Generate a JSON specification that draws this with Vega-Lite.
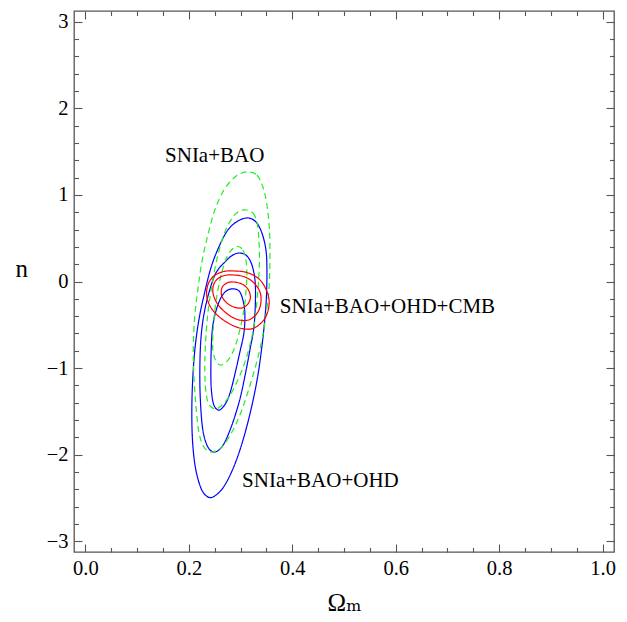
{
  "$schema": "https://vega.github.io/schema/vega-lite/v6.json",
  "width": 540,
  "height": 541,
  "autosize": "none",
  "padding": {"left": 74, "top": 11, "right": 13, "bottom": 70},
  "background": "white",
  "config": {
    "view": {"stroke": "#555555", "strokeWidth": 1.3},
    "axis": {
      "domain": false, "grid": false,
      "labelFont": "Liberation Serif, DejaVu Serif, serif", "labelFontSize": 20.5, "labelColor": "black",
      "tickColor": "#555555", "tickWidth": 1.1,
      "titleFont": "Liberation Serif, DejaVu Serif, serif", "titleFontWeight": "normal", "titleColor": "black", "titleFontSize": 25
    }
  },
  "datasets": {
    "contours": [
      {"c":"B3","s":"blue","i":0,"x":0.3142,"y":0.734},
      {"c":"B3","s":"blue","i":1,"x":0.3297,"y":0.688},
      {"c":"B3","s":"blue","i":2,"x":0.3413,"y":0.560},
      {"c":"B3","s":"blue","i":3,"x":0.3491,"y":0.364},
      {"c":"B3","s":"blue","i":4,"x":0.3510,"y":0.133},
      {"c":"B3","s":"blue","i":5,"x":0.3500,"y":-0.179},
      {"c":"B3","s":"blue","i":6,"x":0.3468,"y":-0.445},
      {"c":"B3","s":"blue","i":7,"x":0.3413,"y":-0.750},
      {"c":"B3","s":"blue","i":8,"x":0.3336,"y":-1.081},
      {"c":"B3","s":"blue","i":9,"x":0.3239,"y":-1.380},
      {"c":"B3","s":"blue","i":10,"x":0.3123,"y":-1.670},
      {"c":"B3","s":"blue","i":11,"x":0.2988,"y":-1.947},
      {"c":"B3","s":"blue","i":12,"x":0.2852,"y":-2.165},
      {"c":"B3","s":"blue","i":13,"x":0.2717,"y":-2.330},
      {"c":"B3","s":"blue","i":14,"x":0.2580,"y":-2.440},
      {"c":"B3","s":"blue","i":15,"x":0.2406,"y":-2.496},
      {"c":"B3","s":"blue","i":16,"x":0.2252,"y":-2.410},
      {"c":"B3","s":"blue","i":17,"x":0.2136,"y":-2.178},
      {"c":"B3","s":"blue","i":18,"x":0.2077,"y":-1.889},
      {"c":"B3","s":"blue","i":19,"x":0.2058,"y":-1.565},
      {"c":"B3","s":"blue","i":20,"x":0.2070,"y":-1.196},
      {"c":"B3","s":"blue","i":21,"x":0.2116,"y":-0.791},
      {"c":"B3","s":"blue","i":22,"x":0.2194,"y":-0.445},
      {"c":"B3","s":"blue","i":23,"x":0.2295,"y":-0.156},
      {"c":"B3","s":"blue","i":24,"x":0.2426,"y":0.156},
      {"c":"B3","s":"blue","i":25,"x":0.2581,"y":0.399},
      {"c":"B3","s":"blue","i":26,"x":0.2755,"y":0.595},
      {"c":"B3","s":"blue","i":27,"x":0.2949,"y":0.699},

      {"c":"B2","s":"blue","i":0,"x":0.2987,"y":0.329},
      {"c":"B2","s":"blue","i":1,"x":0.3123,"y":0.295},
      {"c":"B2","s":"blue","i":2,"x":0.3220,"y":0.191},
      {"c":"B2","s":"blue","i":3,"x":0.3279,"y":0.017},
      {"c":"B2","s":"blue","i":4,"x":0.3288,"y":-0.214},
      {"c":"B2","s":"blue","i":5,"x":0.3259,"y":-0.526},
      {"c":"B2","s":"blue","i":6,"x":0.3181,"y":-0.791},
      {"c":"B2","s":"blue","i":7,"x":0.3104,"y":-1.035},
      {"c":"B2","s":"blue","i":8,"x":0.3007,"y":-1.311},
      {"c":"B2","s":"blue","i":9,"x":0.2910,"y":-1.520},
      {"c":"B2","s":"blue","i":10,"x":0.2794,"y":-1.720},
      {"c":"B2","s":"blue","i":11,"x":0.2658,"y":-1.895},
      {"c":"B2","s":"blue","i":12,"x":0.2503,"y":-1.970},
      {"c":"B2","s":"blue","i":13,"x":0.2368,"y":-1.912},
      {"c":"B2","s":"blue","i":14,"x":0.2271,"y":-1.716},
      {"c":"B2","s":"blue","i":15,"x":0.2223,"y":-1.369},
      {"c":"B2","s":"blue","i":16,"x":0.2213,"y":-1.023},
      {"c":"B2","s":"blue","i":17,"x":0.2232,"y":-0.676},
      {"c":"B2","s":"blue","i":18,"x":0.2290,"y":-0.387},
      {"c":"B2","s":"blue","i":19,"x":0.2387,"y":-0.133},
      {"c":"B2","s":"blue","i":20,"x":0.2523,"y":0.098},
      {"c":"B2","s":"blue","i":21,"x":0.2717,"y":0.237},
      {"c":"B2","s":"blue","i":22,"x":0.2852,"y":0.306},

      {"c":"B1","s":"blue","i":0,"x":0.2890,"y":-0.087},
      {"c":"B1","s":"blue","i":1,"x":0.2987,"y":-0.121},
      {"c":"B1","s":"blue","i":2,"x":0.3055,"y":-0.237},
      {"c":"B1","s":"blue","i":3,"x":0.3084,"y":-0.387},
      {"c":"B1","s":"blue","i":4,"x":0.3065,"y":-0.595},
      {"c":"B1","s":"blue","i":5,"x":0.2987,"y":-0.815},
      {"c":"B1","s":"blue","i":6,"x":0.2910,"y":-1.020},
      {"c":"B1","s":"blue","i":7,"x":0.2813,"y":-1.255},
      {"c":"B1","s":"blue","i":8,"x":0.2720,"y":-1.400},
      {"c":"B1","s":"blue","i":9,"x":0.2590,"y":-1.485},
      {"c":"B1","s":"blue","i":10,"x":0.2484,"y":-1.427},
      {"c":"B1","s":"blue","i":11,"x":0.2436,"y":-1.254},
      {"c":"B1","s":"blue","i":12,"x":0.2426,"y":-1.023},
      {"c":"B1","s":"blue","i":13,"x":0.2436,"y":-0.734},
      {"c":"B1","s":"blue","i":14,"x":0.2465,"y":-0.503},
      {"c":"B1","s":"blue","i":15,"x":0.2542,"y":-0.306},
      {"c":"B1","s":"blue","i":16,"x":0.2639,"y":-0.168},
      {"c":"B1","s":"blue","i":17,"x":0.2755,"y":-0.098},

      {"c":"G3","s":"green","i":0,"x":0.3161,"y":1.265},
      {"c":"G3","s":"green","i":1,"x":0.3316,"y":1.230},
      {"c":"G3","s":"green","i":2,"x":0.3432,"y":1.092},
      {"c":"G3","s":"green","i":3,"x":0.3510,"y":0.884},
      {"c":"G3","s":"green","i":4,"x":0.3559,"y":0.595},
      {"c":"G3","s":"green","i":5,"x":0.3568,"y":0.248},
      {"c":"G3","s":"green","i":6,"x":0.3549,"y":-0.098},
      {"c":"G3","s":"green","i":7,"x":0.3491,"y":-0.387},
      {"c":"G3","s":"green","i":8,"x":0.3413,"y":-0.676},
      {"c":"G3","s":"green","i":9,"x":0.3297,"y":-0.965},
      {"c":"G3","s":"green","i":10,"x":0.3142,"y":-1.277},
      {"c":"G3","s":"green","i":11,"x":0.2988,"y":-1.543},
      {"c":"G3","s":"green","i":12,"x":0.2833,"y":-1.739},
      {"c":"G3","s":"green","i":13,"x":0.2639,"y":-1.912},
      {"c":"G3","s":"green","i":14,"x":0.2445,"y":-1.970},
      {"c":"G3","s":"green","i":15,"x":0.2290,"y":-1.912},
      {"c":"G3","s":"green","i":16,"x":0.2194,"y":-1.739},
      {"c":"G3","s":"green","i":17,"x":0.2136,"y":-1.427},
      {"c":"G3","s":"green","i":18,"x":0.2097,"y":-1.081},
      {"c":"G3","s":"green","i":19,"x":0.2087,"y":-0.734},
      {"c":"G3","s":"green","i":20,"x":0.2116,"y":-0.387},
      {"c":"G3","s":"green","i":21,"x":0.2174,"y":-0.098},
      {"c":"G3","s":"green","i":22,"x":0.2252,"y":0.225},
      {"c":"G3","s":"green","i":23,"x":0.2368,"y":0.537},
      {"c":"G3","s":"green","i":24,"x":0.2503,"y":0.826},
      {"c":"G3","s":"green","i":25,"x":0.2678,"y":1.057},
      {"c":"G3","s":"green","i":26,"x":0.2871,"y":1.196},
      {"c":"G3","s":"green","i":27,"x":0.3026,"y":1.254},

      {"c":"G2","s":"green","i":0,"x":0.3113,"y":0.826},
      {"c":"G2","s":"green","i":1,"x":0.3239,"y":0.792},
      {"c":"G2","s":"green","i":2,"x":0.3316,"y":0.688},
      {"c":"G2","s":"green","i":3,"x":0.3355,"y":0.480},
      {"c":"G2","s":"green","i":4,"x":0.3365,"y":0.225},
      {"c":"G2","s":"green","i":5,"x":0.3336,"y":-0.098},
      {"c":"G2","s":"green","i":6,"x":0.3278,"y":-0.445},
      {"c":"G2","s":"green","i":7,"x":0.3181,"y":-0.734},
      {"c":"G2","s":"green","i":8,"x":0.3065,"y":-0.965},
      {"c":"G2","s":"green","i":9,"x":0.2929,"y":-1.161},
      {"c":"G2","s":"green","i":10,"x":0.2775,"y":-1.334},
      {"c":"G2","s":"green","i":11,"x":0.2600,"y":-1.450},
      {"c":"G2","s":"green","i":12,"x":0.2474,"y":-1.467},
      {"c":"G2","s":"green","i":13,"x":0.2368,"y":-1.392},
      {"c":"G2","s":"green","i":14,"x":0.2319,"y":-1.196},
      {"c":"G2","s":"green","i":15,"x":0.2310,"y":-0.907},
      {"c":"G2","s":"green","i":16,"x":0.2339,"y":-0.560},
      {"c":"G2","s":"green","i":17,"x":0.2387,"y":-0.272},
      {"c":"G2","s":"green","i":18,"x":0.2465,"y":0.017},
      {"c":"G2","s":"green","i":19,"x":0.2562,"y":0.306},
      {"c":"G2","s":"green","i":20,"x":0.2697,"y":0.572},
      {"c":"G2","s":"green","i":21,"x":0.2852,"y":0.745},
      {"c":"G2","s":"green","i":22,"x":0.2987,"y":0.815},

      {"c":"G1","s":"green","i":0,"x":0.2949,"y":0.404},
      {"c":"G1","s":"green","i":1,"x":0.3046,"y":0.364},
      {"c":"G1","s":"green","i":2,"x":0.3104,"y":0.248},
      {"c":"G1","s":"green","i":3,"x":0.3123,"y":0.075},
      {"c":"G1","s":"green","i":4,"x":0.3104,"y":-0.121},
      {"c":"G1","s":"green","i":5,"x":0.3065,"y":-0.329},
      {"c":"G1","s":"green","i":6,"x":0.2987,"y":-0.560},
      {"c":"G1","s":"green","i":7,"x":0.2890,"y":-0.757},
      {"c":"G1","s":"green","i":8,"x":0.2774,"y":-0.896},
      {"c":"G1","s":"green","i":9,"x":0.2629,"y":-0.965},
      {"c":"G1","s":"green","i":10,"x":0.2523,"y":-0.919},
      {"c":"G1","s":"green","i":11,"x":0.2465,"y":-0.791},
      {"c":"G1","s":"green","i":12,"x":0.2465,"y":-0.618},
      {"c":"G1","s":"green","i":13,"x":0.2503,"y":-0.329},
      {"c":"G1","s":"green","i":14,"x":0.2562,"y":-0.098},
      {"c":"G1","s":"green","i":15,"x":0.2639,"y":0.110},
      {"c":"G1","s":"green","i":16,"x":0.2736,"y":0.283},
      {"c":"G1","s":"green","i":17,"x":0.2852,"y":0.381},

      {"c":"R3","s":"red","i":0,"x":0.2891,"y":0.121},
      {"c":"R3","s":"red","i":1,"x":0.3123,"y":0.104},
      {"c":"R3","s":"red","i":2,"x":0.3336,"y":0.040},
      {"c":"R3","s":"red","i":3,"x":0.3471,"y":-0.064},
      {"c":"R3","s":"red","i":4,"x":0.3549,"y":-0.202},
      {"c":"R3","s":"red","i":5,"x":0.3530,"y":-0.341},
      {"c":"R3","s":"red","i":6,"x":0.3433,"y":-0.457},
      {"c":"R3","s":"red","i":7,"x":0.3259,"y":-0.538},
      {"c":"R3","s":"red","i":8,"x":0.3084,"y":-0.549},
      {"c":"R3","s":"red","i":9,"x":0.2871,"y":-0.514},
      {"c":"R3","s":"red","i":10,"x":0.2639,"y":-0.433},
      {"c":"R3","s":"red","i":11,"x":0.2445,"y":-0.318},
      {"c":"R3","s":"red","i":12,"x":0.2349,"y":-0.179},
      {"c":"R3","s":"red","i":13,"x":0.2368,"y":-0.040},
      {"c":"R3","s":"red","i":14,"x":0.2484,"y":0.064},
      {"c":"R3","s":"red","i":15,"x":0.2678,"y":0.116},

      {"c":"R2","s":"red","i":0,"x":0.2871,"y":0.075},
      {"c":"R2","s":"red","i":1,"x":0.3084,"y":0.052},
      {"c":"R2","s":"red","i":2,"x":0.3259,"y":-0.017},
      {"c":"R2","s":"red","i":3,"x":0.3375,"y":-0.121},
      {"c":"R2","s":"red","i":4,"x":0.3394,"y":-0.237},
      {"c":"R2","s":"red","i":5,"x":0.3336,"y":-0.352},
      {"c":"R2","s":"red","i":6,"x":0.3201,"y":-0.433},
      {"c":"R2","s":"red","i":7,"x":0.3046,"y":-0.451},
      {"c":"R2","s":"red","i":8,"x":0.2871,"y":-0.422},
      {"c":"R2","s":"red","i":9,"x":0.2697,"y":-0.352},
      {"c":"R2","s":"red","i":10,"x":0.2542,"y":-0.248},
      {"c":"R2","s":"red","i":11,"x":0.2465,"y":-0.121},
      {"c":"R2","s":"red","i":12,"x":0.2503,"y":-0.006},
      {"c":"R2","s":"red","i":13,"x":0.2658,"y":0.064},

      {"c":"R1","s":"red","i":0,"x":0.2871,"y":-0.006},
      {"c":"R1","s":"red","i":1,"x":0.3026,"y":-0.029},
      {"c":"R1","s":"red","i":2,"x":0.3142,"y":-0.087},
      {"c":"R1","s":"red","i":3,"x":0.3191,"y":-0.179},
      {"c":"R1","s":"red","i":4,"x":0.3142,"y":-0.260},
      {"c":"R1","s":"red","i":5,"x":0.3026,"y":-0.306},
      {"c":"R1","s":"red","i":6,"x":0.2871,"y":-0.295},
      {"c":"R1","s":"red","i":7,"x":0.2736,"y":-0.248},
      {"c":"R1","s":"red","i":8,"x":0.2639,"y":-0.168},
      {"c":"R1","s":"red","i":9,"x":0.2639,"y":-0.075},
      {"c":"R1","s":"red","i":10,"x":0.2736,"y":-0.017}
    ],
    "labels": [
      {"x": 0.154, "y": 1.45, "label": "SNIa+BAO"},
      {"x": 0.376, "y": -0.295, "label": "SNIa+BAO+OHD+CMB"},
      {"x": 0.303, "y": -2.305, "label": "SNIa+BAO+OHD"}
    ]
  },
  "layer": [
    {
      "data": {"name": "contours"},
      "mark": {"type": "line", "interpolate": "cardinal-closed", "strokeWidth": 1.2},
      "encoding": {
        "x": {"field": "x", "type": "quantitative",
              "scale": {"domain": [-0.022, 1.022], "nice": false, "zero": false},
              "axis": {"orient": "bottom", "values": [0, 0.2, 0.4, 0.6, 0.8, 1.0], "format": ".1f",
                       "tickSize": -8, "labelPadding": 14, "title": "Ωₘ", "titlePadding": 12}},
        "y": {"field": "y", "type": "quantitative",
              "scale": {"domain": [-3.125, 3.125], "nice": false, "zero": false},
              "axis": {"orient": "left", "values": [-3, -2, -1, 0, 1, 2, 3], "format": "d",
                       "tickSize": -8, "labelPadding": 14, "title": "n", "titleAngle": 0, "titlePadding": 25}},
        "detail": {"field": "c"},
        "order": {"field": "i", "type": "quantitative"},
        "color": {"field": "s", "type": "nominal", "legend": null,
                  "scale": {"domain": ["blue", "green", "red"], "range": ["#0000ff", "#22ee22", "#ff0000"]}},
        "strokeDash": {"field": "s", "type": "nominal", "legend": null,
                       "scale": {"domain": ["blue", "green", "red"], "range": [[1, 0], [6, 4], [1, 0]]}}
      }
    },
    {
      "data": {"name": "labels"},
      "mark": {"type": "text", "align": "left", "baseline": "middle", "font": "Liberation Serif, DejaVu Serif, serif", "fontSize": 21, "color": "black"},
      "encoding": {
        "x": {"field": "x", "type": "quantitative",
              "axis": {"orient": "bottom", "values": [0.05, 0.1, 0.15, 0.25, 0.3, 0.35, 0.45, 0.5, 0.55, 0.65, 0.7, 0.75, 0.85, 0.9, 0.95],
                       "tickSize": -4.5, "labels": false, "title": null}},
        "y": {"field": "y", "type": "quantitative",
              "axis": {"orient": "left", "values": [-2.8, -2.6, -2.4, -2.2, -1.8, -1.6, -1.4, -1.2, -0.8, -0.6, -0.4, -0.2, 0.2, 0.4, 0.6, 0.8, 1.2, 1.4, 1.6, 1.8, 2.2, 2.4, 2.6, 2.8],
                       "tickSize": -4.5, "labels": false, "title": null}},
        "text": {"field": "label"}
      }
    },
    {
      "data": {"name": "labels"},
      "mark": {"type": "point", "opacity": 0},
      "encoding": {
        "x": {"field": "x", "type": "quantitative",
              "axis": {"orient": "top", "values": [0, 0.2, 0.4, 0.6, 0.8, 1.0], "tickSize": -8, "labels": false, "title": null}},
        "y": {"field": "y", "type": "quantitative",
              "axis": {"orient": "right", "values": [-3, -2, -1, 0, 1, 2, 3], "tickSize": -8, "labels": false, "title": null}}
      }
    },
    {
      "data": {"name": "labels"},
      "mark": {"type": "point", "opacity": 0},
      "encoding": {
        "x": {"field": "x", "type": "quantitative",
              "axis": {"orient": "top", "values": [0.05, 0.1, 0.15, 0.25, 0.3, 0.35, 0.45, 0.5, 0.55, 0.65, 0.7, 0.75, 0.85, 0.9, 0.95],
                       "tickSize": -4.5, "labels": false, "title": null}},
        "y": {"field": "y", "type": "quantitative",
              "axis": {"orient": "right", "values": [-2.8, -2.6, -2.4, -2.2, -1.8, -1.6, -1.4, -1.2, -0.8, -0.6, -0.4, -0.2, 0.2, 0.4, 0.6, 0.8, 1.2, 1.4, 1.6, 1.8, 2.2, 2.4, 2.6, 2.8],
                       "tickSize": -4.5, "labels": false, "title": null}}
      }
    }
  ],
  "resolve": {"axis": {"x": "independent", "y": "independent"}}
}
